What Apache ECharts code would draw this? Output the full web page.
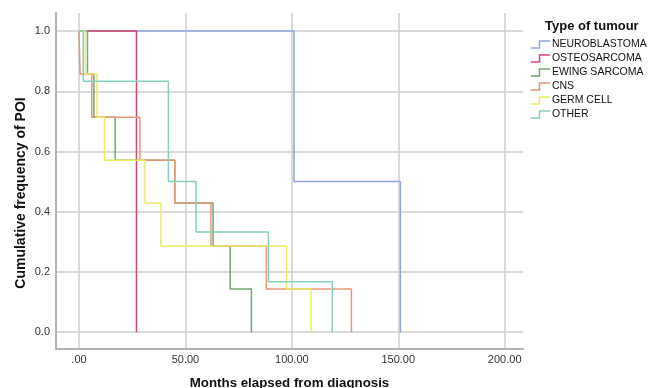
<!DOCTYPE html>
<html>
<head>
<meta charset="utf-8">
<script src="https://cdn.jsdelivr.net/npm/echarts@6/dist/echarts.min.js"></script>
<style>
  html, body { margin: 0; padding: 0; background: #fff; }
  #chart { width: 649px; height: 388px; }
</style>
</head>
<body>
<div id="chart"></div>
<script>
(function(){

  // step curves: drop times (months) and the level reached after each drop
  var categories = ['NEUROBLASTOMA', 'OSTEOSARCOMA', 'EWING SARCOMA', 'CNS', 'GERM CELL', 'OTHER'];
  var neuroTimes = [0, 101, 151];
  var neuroValues = [1, 0.5, 0];
  var osteoTimes = [0, 27];
  var osteoValues = [1, 0];
  var ewingTimes = [0, 4, 7, 17, 45, 63, 71, 81];
  var ewingValues = [1, 0.857, 0.714, 0.571, 0.429, 0.286, 0.143, 0];
  var cnsTimes = [0, 0.5, 6, 28.6, 45, 62, 88, 128];
  var cnsValues = [1, 0.857, 0.714, 0.571, 0.429, 0.286, 0.143, 0];
  var germTimes = [0, 3, 8.5, 12, 31, 38.5, 97.5, 109];
  var germValues = [1, 0.857, 0.714, 0.571, 0.429, 0.286, 0.143, 0];
  var otherTimes = [0, 2, 42, 55, 89, 119];
  var otherValues = [1, 0.833, 0.5, 0.333, 0.167, 0];

  var xTicks = [0, 50, 100, 150, 200];
  var yTicks = [0, 0.2, 0.4, 0.6, 0.8, 1.0];

  var colors = ['#93a6e2', '#d5466d', '#74a874', '#e8977a', '#ecec62', '#86cfc0'];
  var font = 'Liberation Sans, Arial, sans-serif';

  function zip(t, v){
    return t.map(function(x, i){ return [x, v[i]]; });
  }
  var curves = [
    zip(neuroTimes, neuroValues),
    zip(osteoTimes, osteoValues),
    zip(ewingTimes, ewingValues),
    zip(cnsTimes, cnsValues),
    zip(germTimes, germValues),
    zip(otherTimes, otherValues)
  ];

  var chartDom = document.getElementById('chart');
  var myChart = echarts.init(chartDom, null, { renderer: 'canvas' });

  var option = {
    animation: false,
    color: colors,
    title: {
      text: 'Type of tumour',
      left: 540,
      top: 15,
      textStyle: { fontFamily: font, fontSize: 13, fontWeight: 'bold', color: '#111' }
    },
    legend: {
      orient: 'vertical',
      left: 525,
      top: 34,
      itemWidth: 21,
      itemHeight: 7,
      itemGap: 3,
      icon: 'path://M0,8 L10,8 L10,0 L22,0',
      textStyle: { fontFamily: font, fontSize: 10.5, color: '#111', padding: [0, 0, 0, -4] },
      data: categories.map(function(name, i){
        return {
          name: name,
          itemStyle: { color: 'transparent', borderColor: colors[i], borderWidth: 1.5 }
        };
      })
    },
    grid: { left: 56, top: 13, right: 126, bottom: 39, containLabel: false, outerBoundsMode: 'none' },
    xAxis: {
      type: 'value',
      min: -10.8,
      max: 208.6,
      name: 'Months elapsed from diagnosis',
      nameLocation: 'middle',
      nameGap: 28,
      nameMoveOverlap: false,
      nameTextStyle: { fontFamily: font, fontSize: 13.3, fontWeight: 'bold', color: '#111' },
      axisLine: { show: true, onZero: false, lineStyle: { color: '#b4b4b4', width: 2 } },
      axisTick: { show: false, customValues: xTicks },
      axisLabel: {
        customValues: xTicks,
        margin: 5,
        fontFamily: font, fontSize: 11, color: '#333',
        formatter: function(v){ return v === 0 ? '.00' : v.toFixed(2); }
      },
      splitLine: { show: true, lineStyle: { color: '#cfcfcf', width: 1.5 } }
    },
    yAxis: {
      type: 'value',
      min: -0.056,
      max: 1.06,
      name: 'Cumulative frequency of POI',
      nameLocation: 'middle',
      nameGap: 28,
      nameMoveOverlap: false,
      nameTextStyle: { fontFamily: font, fontSize: 14, fontWeight: 'bold', color: '#111', padding: [0, 24, 0, 0] },
      axisLine: { show: true, onZero: false, lineStyle: { color: '#b4b4b4', width: 2 } },
      axisTick: { show: false, customValues: yTicks },
      axisLabel: {
        customValues: yTicks,
        margin: 6,
        fontFamily: font, fontSize: 11, color: '#333',
        formatter: function(v){ return v.toFixed(1); }
      },
      splitLine: { show: true, lineStyle: { color: '#cfcfcf', width: 1.5 } }
    },
    series: categories.map(function(name, i){
      return {
        name: name,
        type: 'line',
        step: 'end',
        showSymbol: false,
        symbol: 'none',
        lineStyle: { width: 1.5, color: colors[i] },
        data: curves[i]
      };
    })
  };

  option && myChart.setOption(option);

})();
</script>
</body>
</html>
